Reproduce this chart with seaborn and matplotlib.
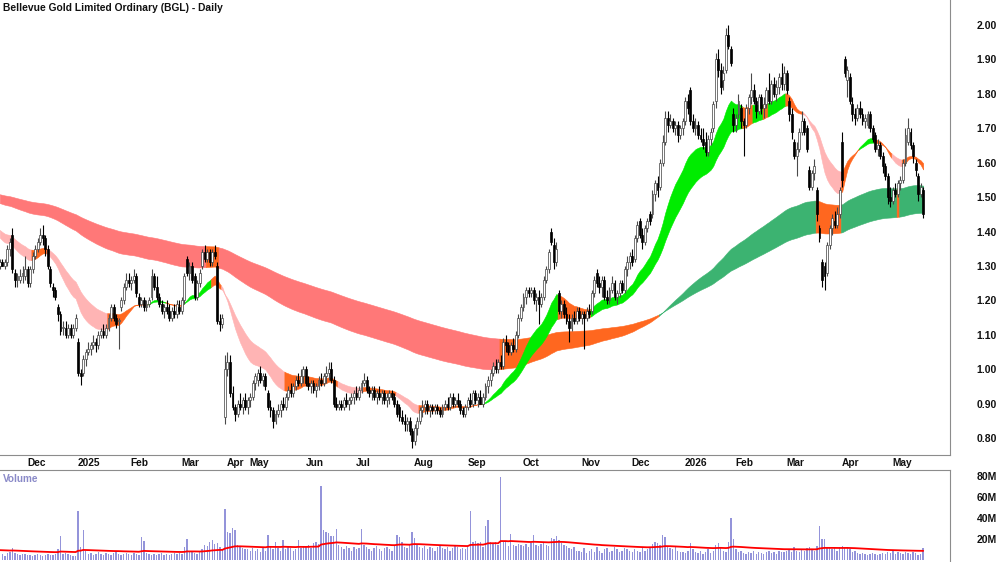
import numpy as np
import matplotlib
matplotlib.use("Agg")
import matplotlib.pyplot as plt
import seaborn as sns

title = "Bellevue Gold Limited Ordinary (BGL) - Daily"

# trading days shown in each month (first entry is the tail of Nov 2024)
month_days = [10, 20, 21, 20, 18, 9, 22, 20, 23, 21, 22, 23, 20, 21, 20, 20, 22, 20, 14]
month_labels = ["Dec", "2025", "Feb", "Mar", "Apr", "May", "Jun", "Jul", "Aug", "Sep",
                "Oct", "Nov", "Dec", "2026", "Feb", "Mar", "Apr", "May"]

opens = [
    1.30, 1.31, 1.30, 1.31, 1.35, 1.39, 1.28, 1.26, 1.26, 1.27,
    1.27, 1.29, 1.25, 1.29, 1.33, 1.35, 1.37, 1.39, 1.38, 1.35, 1.29, 1.24, 1.23, 1.18, 1.16, 1.12, 1.12, 1.10, 1.12, 1.10,
    1.12, 1.08, 0.99, 0.99, 1.03, 1.05, 1.06, 1.07, 1.08, 1.07, 1.10, 1.11, 1.10, 1.12, 1.15, 1.18, 1.15, 1.14, 1.18, 1.20, 1.24,
    1.26, 1.25, 1.26, 1.27, 1.21, 1.19, 1.20, 1.18, 1.19, 1.21, 1.27, 1.24, 1.21, 1.19, 1.17, 1.18, 1.17, 1.15, 1.17, 1.16,
    1.18, 1.17, 1.20, 1.32, 1.28, 1.30, 1.27, 1.21, 1.25, 1.30, 1.34, 1.32, 1.34, 1.31, 1.34, 1.30, 1.14, 1.13,
    0.86, 1.00, 1.02, 0.93, 0.89, 0.87, 0.90, 0.89, 0.91,
    0.89, 0.91, 0.92, 0.96, 0.97, 0.99, 0.97, 0.98, 0.93, 0.89, 0.88, 0.85, 0.87, 0.88, 0.90, 0.89, 0.92, 0.94, 0.93, 0.95, 0.97, 0.96,
    0.98, 1.00, 0.96, 0.95, 0.96, 0.94, 0.95, 0.97, 0.96, 0.98, 0.99, 1.00, 0.97, 0.90, 0.89, 0.90, 0.89, 0.91, 0.90, 0.91,
    0.92, 0.93, 0.92, 0.94, 0.96, 0.97, 0.94, 0.93, 0.94, 0.92, 0.93, 0.92, 0.93, 0.91, 0.92, 0.93, 0.92, 0.90, 0.89, 0.86, 0.85, 0.84, 0.85,
    0.82, 0.79, 0.83, 0.85, 0.88, 0.89, 0.90, 0.88, 0.89, 0.88, 0.89, 0.88, 0.87, 0.89, 0.90, 0.89, 0.92, 0.90, 0.91, 0.90, 0.88,
    0.87, 0.89, 0.91, 0.90, 0.93, 0.91, 0.92, 0.90, 0.92, 0.95, 0.97, 0.99, 1.01, 1.00, 1.02, 1.01, 1.08, 1.07, 1.05, 1.07, 1.06, 1.10,
    1.15, 1.18, 1.21, 1.23, 1.22, 1.23, 1.20, 1.21, 1.19, 1.21, 1.26, 1.29, 1.40, 1.36, 1.31, 1.22, 1.17, 1.19, 1.16, 1.14, 1.12, 1.15, 1.14,
    1.17, 1.15, 1.16, 1.15, 1.17, 1.17, 1.22, 1.28, 1.25, 1.24, 1.26, 1.21, 1.20, 1.23, 1.25, 1.21, 1.22, 1.25, 1.23, 1.29,
    1.31, 1.33, 1.32, 1.38, 1.43, 1.39, 1.37, 1.41, 1.45, 1.45, 1.51, 1.54, 1.53, 1.60, 1.66, 1.73, 1.71, 1.72, 1.70, 1.71, 1.68,
    1.70, 1.72, 1.78, 1.81, 1.72, 1.70, 1.71, 1.68, 1.67, 1.66, 1.63, 1.67, 1.70, 1.78, 1.90, 1.87, 1.84, 1.87, 1.97, 1.93,
    1.74, 1.71, 1.74, 1.76, 1.72, 1.71, 1.76, 1.79, 1.81, 1.78, 1.75, 1.79, 1.76, 1.77, 1.81, 1.78, 1.83, 1.80, 1.82, 1.85,
    1.83, 1.86, 1.78, 1.74, 1.66, 1.62, 1.64, 1.69, 1.72, 1.70, 1.58, 1.53, 1.57, 1.52, 1.41, 1.31, 1.30, 1.28, 1.36, 1.41, 1.43, 1.42,
    1.45, 1.66, 1.90, 1.84, 1.85, 1.77, 1.74, 1.73, 1.76, 1.74, 1.72, 1.71, 1.74, 1.70, 1.68, 1.64, 1.65, 1.62, 1.59, 1.56,
    1.50, 1.49, 1.52, 1.51, 1.54, 1.55, 1.60, 1.66, 1.69, 1.65, 1.60, 1.56, 1.51, 1.52,
]
highs = [
    1.32, 1.32, 1.32, 1.36, 1.38, 1.41, 1.29, 1.28, 1.29, 1.30,
    1.33, 1.30, 1.30, 1.34, 1.36, 1.38, 1.41, 1.42, 1.39, 1.36, 1.30, 1.25, 1.24, 1.19, 1.17, 1.14, 1.14, 1.13, 1.13, 1.13,
    1.16, 1.09, 1.00, 1.04, 1.06, 1.08, 1.08, 1.10, 1.09, 1.11, 1.12, 1.13, 1.13, 1.16, 1.19, 1.19, 1.16, 1.15, 1.21, 1.25, 1.28,
    1.28, 1.27, 1.29, 1.28, 1.22, 1.21, 1.21, 1.20, 1.21, 1.29, 1.28, 1.27, 1.22, 1.20, 1.19, 1.20, 1.19, 1.18, 1.19, 1.20,
    1.20, 1.21, 1.28, 1.33, 1.31, 1.31, 1.28, 1.26, 1.29, 1.35, 1.36, 1.35, 1.35, 1.35, 1.36, 1.31, 1.16, 1.16,
    1.04, 1.05, 1.04, 0.95, 0.90, 0.91, 0.93, 0.92, 0.93,
    0.92, 0.93, 0.97, 0.99, 1.00, 1.01, 0.99, 0.99, 0.94, 0.91, 0.89, 0.88, 0.90, 0.91, 0.92, 0.93, 0.95, 0.96, 0.96, 0.98, 0.99, 1.00,
    1.01, 1.01, 0.98, 0.97, 0.97, 0.96, 0.98, 0.99, 0.99, 1.01, 1.02, 1.02, 0.98, 0.92, 0.91, 0.91, 0.92, 0.93, 0.92, 0.93,
    0.94, 0.95, 0.95, 0.97, 0.99, 0.98, 0.95, 0.95, 0.95, 0.94, 0.95, 0.94, 0.94, 0.93, 0.94, 0.94, 0.93, 0.91, 0.90, 0.88, 0.87, 0.86, 0.86,
    0.83, 0.84, 0.86, 0.89, 0.91, 0.91, 0.91, 0.90, 0.90, 0.90, 0.90, 0.89, 0.90, 0.91, 0.92, 0.93, 0.93, 0.92, 0.93, 0.91, 0.89,
    0.90, 0.92, 0.93, 0.94, 0.94, 0.93, 0.94, 0.93, 0.96, 0.98, 1.00, 1.02, 1.03, 1.03, 1.04, 1.09, 1.10, 1.08, 1.08, 1.09, 1.11, 1.16,
    1.19, 1.22, 1.24, 1.24, 1.24, 1.24, 1.22, 1.23, 1.22, 1.27, 1.30, 1.35, 1.41, 1.38, 1.37, 1.23, 1.20, 1.20, 1.18, 1.16, 1.16, 1.17, 1.18,
    1.18, 1.17, 1.17, 1.18, 1.19, 1.23, 1.27, 1.29, 1.27, 1.27, 1.27, 1.23, 1.24, 1.27, 1.26, 1.23, 1.26, 1.26, 1.30, 1.33,
    1.34, 1.35, 1.39, 1.43, 1.44, 1.41, 1.42, 1.44, 1.46, 1.52, 1.55, 1.56, 1.61, 1.68, 1.75, 1.75, 1.74, 1.73, 1.72, 1.72, 1.71,
    1.73, 1.79, 1.80, 1.82, 1.74, 1.73, 1.72, 1.70, 1.70, 1.69, 1.68, 1.70, 1.78, 1.92, 1.93, 1.89, 1.88, 1.99, 2.00, 1.94,
    1.76, 1.74, 1.80, 1.77, 1.73, 1.77, 1.80, 1.86, 1.83, 1.79, 1.80, 1.80, 1.79, 1.82, 1.86, 1.84, 1.85, 1.84, 1.86, 1.89,
    1.88, 1.87, 1.79, 1.76, 1.67, 1.66, 1.70, 1.75, 1.73, 1.71, 1.59, 1.58, 1.61, 1.53, 1.42, 1.32, 1.31, 1.37, 1.42, 1.45, 1.46, 1.47,
    1.53, 1.69, 1.91, 1.88, 1.86, 1.79, 1.76, 1.77, 1.78, 1.76, 1.74, 1.75, 1.75, 1.71, 1.69, 1.67, 1.66, 1.63, 1.60, 1.57,
    1.53, 1.53, 1.54, 1.55, 1.56, 1.61, 1.70, 1.73, 1.70, 1.66, 1.61, 1.57, 1.54, 1.53,
]
lows = [
    1.29, 1.30, 1.29, 1.30, 1.33, 1.28, 1.24, 1.24, 1.25, 1.25,
    1.26, 1.24, 1.24, 1.28, 1.32, 1.34, 1.36, 1.36, 1.33, 1.29, 1.24, 1.21, 1.20, 1.14, 1.10, 1.10, 1.09, 1.09, 1.09, 1.09,
    1.11, 0.98, 0.955, 0.98, 1.01, 1.04, 1.04, 1.06, 1.05, 1.06, 1.09, 1.09, 1.09, 1.11, 1.14, 1.14, 1.12, 1.06, 1.17, 1.19, 1.23,
    1.24, 1.23, 1.25, 1.21, 1.18, 1.18, 1.17, 1.17, 1.18, 1.20, 1.23, 1.20, 1.18, 1.16, 1.15, 1.16, 1.14, 1.14, 1.15, 1.15,
    1.16, 1.16, 1.19, 1.27, 1.26, 1.25, 1.20, 1.20, 1.24, 1.29, 1.31, 1.31, 1.30, 1.30, 1.32, 1.13, 1.11, 1.12,
    0.84, 0.98, 0.92, 0.88, 0.85, 0.86, 0.88, 0.87, 0.88,
    0.87, 0.89, 0.91, 0.94, 0.95, 0.96, 0.95, 0.94, 0.88, 0.86, 0.83, 0.84, 0.86, 0.86, 0.88, 0.88, 0.91, 0.92, 0.92, 0.94, 0.95, 0.95,
    0.96, 0.95, 0.94, 0.93, 0.93, 0.92, 0.94, 0.95, 0.95, 0.96, 0.97, 0.96, 0.89, 0.88, 0.88, 0.88, 0.88, 0.89, 0.88, 0.90,
    0.90, 0.91, 0.91, 0.93, 0.95, 0.93, 0.92, 0.91, 0.91, 0.90, 0.91, 0.90, 0.90, 0.89, 0.90, 0.91, 0.89, 0.86, 0.85, 0.84, 0.82, 0.82, 0.81,
    0.77, 0.78, 0.81, 0.84, 0.86, 0.87, 0.87, 0.86, 0.87, 0.87, 0.87, 0.86, 0.86, 0.88, 0.88, 0.88, 0.89, 0.89, 0.89, 0.87, 0.86,
    0.86, 0.88, 0.89, 0.89, 0.90, 0.89, 0.90, 0.89, 0.91, 0.93, 0.95, 0.98, 0.99, 0.99, 1.00, 1.00, 1.05, 1.04, 1.04, 1.05, 1.05, 1.09,
    1.14, 1.17, 1.19, 1.21, 1.21, 1.19, 1.17, 1.13, 1.18, 1.20, 1.25, 1.28, 1.36, 1.29, 1.30, 1.16, 1.15, 1.15, 1.13, 1.08, 1.11, 1.13, 1.13,
    1.14, 1.13, 1.06, 1.14, 1.15, 1.16, 1.21, 1.24, 1.22, 1.21, 1.20, 1.19, 1.19, 1.22, 1.20, 1.19, 1.21, 1.22, 1.22, 1.27,
    1.29, 1.30, 1.31, 1.37, 1.38, 1.35, 1.36, 1.40, 1.42, 1.44, 1.49, 1.50, 1.52, 1.59, 1.65, 1.69, 1.70, 1.69, 1.68, 1.66, 1.67,
    1.68, 1.71, 1.74, 1.71, 1.69, 1.68, 1.67, 1.66, 1.64, 1.62, 1.62, 1.65, 1.69, 1.76, 1.85, 1.80, 1.81, 1.86, 1.93, 1.88,
    1.69, 1.69, 1.73, 1.70, 1.62, 1.70, 1.74, 1.77, 1.77, 1.73, 1.74, 1.74, 1.73, 1.76, 1.77, 1.77, 1.79, 1.78, 1.80, 1.81,
    1.81, 1.80, 1.72, 1.67, 1.61, 1.56, 1.63, 1.68, 1.68, 1.63, 1.52, 1.52, 1.55, 1.43, 1.37, 1.24, 1.23, 1.27, 1.35, 1.39, 1.41, 1.41,
    1.44, 1.53, 1.85, 1.79, 1.77, 1.72, 1.71, 1.72, 1.73, 1.71, 1.70, 1.70, 1.69, 1.66, 1.63, 1.62, 1.61, 1.57, 1.55, 1.48,
    1.47, 1.48, 1.50, 1.50, 1.52, 1.54, 1.59, 1.65, 1.64, 1.60, 1.56, 1.49, 1.50, 1.44,
]
closes = [
    1.31, 1.30, 1.31, 1.35, 1.37, 1.29, 1.26, 1.27, 1.27, 1.28,
    1.29, 1.25, 1.29, 1.33, 1.35, 1.37, 1.39, 1.38, 1.35, 1.30, 1.25, 1.23, 1.21, 1.16, 1.11, 1.12, 1.10, 1.12, 1.10, 1.12,
    1.15, 0.99, 0.98, 1.03, 1.05, 1.06, 1.07, 1.08, 1.07, 1.10, 1.11, 1.10, 1.12, 1.15, 1.18, 1.15, 1.13, 1.14, 1.20, 1.24, 1.26,
    1.25, 1.26, 1.27, 1.22, 1.19, 1.20, 1.18, 1.19, 1.20, 1.27, 1.24, 1.21, 1.19, 1.17, 1.18, 1.17, 1.15, 1.17, 1.16, 1.19,
    1.17, 1.20, 1.27, 1.28, 1.30, 1.26, 1.21, 1.25, 1.28, 1.34, 1.32, 1.34, 1.31, 1.34, 1.33, 1.14, 1.13, 1.15,
    1.00, 1.02, 0.93, 0.89, 0.87, 0.90, 0.89, 0.91, 0.89,
    0.91, 0.92, 0.96, 0.98, 0.99, 0.97, 0.98, 0.95, 0.89, 0.88, 0.85, 0.87, 0.88, 0.90, 0.89, 0.92, 0.94, 0.93, 0.95, 0.97, 0.96, 0.98,
    1.00, 0.96, 0.95, 0.96, 0.94, 0.95, 0.97, 0.96, 0.98, 0.99, 1.00, 0.97, 0.90, 0.89, 0.90, 0.89, 0.91, 0.90, 0.91, 0.92,
    0.93, 0.92, 0.94, 0.96, 0.97, 0.94, 0.93, 0.94, 0.92, 0.93, 0.92, 0.93, 0.91, 0.92, 0.93, 0.92, 0.90, 0.87, 0.86, 0.85, 0.84, 0.85, 0.82,
    0.79, 0.83, 0.85, 0.88, 0.89, 0.90, 0.88, 0.89, 0.88, 0.89, 0.88, 0.87, 0.89, 0.90, 0.89, 0.92, 0.90, 0.91, 0.90, 0.88, 0.87,
    0.89, 0.91, 0.90, 0.93, 0.91, 0.92, 0.90, 0.92, 0.95, 0.97, 0.99, 1.01, 1.00, 1.02, 1.01, 1.08, 1.07, 1.05, 1.07, 1.06, 1.10, 1.15,
    1.18, 1.21, 1.23, 1.22, 1.23, 1.20, 1.21, 1.19, 1.21, 1.26, 1.29, 1.34, 1.37, 1.31, 1.35, 1.17, 1.19, 1.16, 1.14, 1.12, 1.15, 1.14, 1.17,
    1.15, 1.16, 1.15, 1.17, 1.16, 1.22, 1.26, 1.25, 1.24, 1.26, 1.21, 1.20, 1.23, 1.25, 1.21, 1.22, 1.25, 1.23, 1.29, 1.31,
    1.33, 1.31, 1.38, 1.42, 1.39, 1.37, 1.41, 1.43, 1.43, 1.51, 1.54, 1.52, 1.60, 1.66, 1.73, 1.71, 1.72, 1.70, 1.71, 1.68, 1.70,
    1.72, 1.78, 1.76, 1.72, 1.70, 1.71, 1.68, 1.67, 1.65, 1.63, 1.67, 1.69, 1.77, 1.90, 1.87, 1.82, 1.86, 1.97, 1.94, 1.89,
    1.71, 1.73, 1.78, 1.72, 1.71, 1.76, 1.79, 1.81, 1.78, 1.75, 1.79, 1.76, 1.77, 1.81, 1.78, 1.83, 1.80, 1.82, 1.85, 1.83,
    1.86, 1.81, 1.74, 1.69, 1.62, 1.64, 1.69, 1.72, 1.69, 1.64, 1.53, 1.57, 1.59, 1.45, 1.38, 1.26, 1.27, 1.36, 1.41, 1.44, 1.42, 1.45,
    1.52, 1.55, 1.86, 1.87, 1.78, 1.74, 1.73, 1.76, 1.74, 1.72, 1.73, 1.74, 1.70, 1.67, 1.64, 1.65, 1.62, 1.59, 1.56, 1.50,
    1.49, 1.52, 1.51, 1.54, 1.55, 1.60, 1.68, 1.70, 1.65, 1.62, 1.58, 1.51, 1.53, 1.45,
]
# daily volume, millions of shares
volume_m = [
    5, 6, 4, 7, 8, 11, 7, 6, 5, 6,
    6, 5, 5, 4, 5, 6, 5, 4, 5, 6, 5, 5, 6, 10, 23, 6, 7, 6, 5, 4,
    4, 46, 12, 28, 9, 6, 7, 5, 6, 8, 6, 5, 7, 6, 5, 7, 9, 6, 5, 6, 7,
    6, 5, 7, 6, 5, 22, 18, 7, 6, 5, 6, 5, 6, 7, 5, 6, 5, 6, 7, 6,
    7, 6, 12, 20, 9, 8, 7, 6, 8, 10, 14, 13, 17, 19, 15, 16, 12, 10,
    48, 27, 26, 30, 28, 14, 12, 11, 10,
    10, 9, 11, 9, 10, 8, 11, 9, 24, 12, 10, 17, 11, 9, 19, 10, 12, 11, 9, 10, 19, 11,
    13, 12, 14, 11, 16, 17, 15, 70, 28, 27, 26, 23, 23, 29, 14, 12, 10, 13, 11, 9,
    12, 10, 11, 29, 14, 12, 10, 9, 11, 13, 10, 9, 11, 12, 10, 9, 13, 24, 22, 17, 12, 11, 14,
    27, 21, 15, 12, 11, 13, 10, 12, 11, 9, 12, 14, 11, 10, 12, 9, 11, 13, 12, 10, 11,
    10, 12, 46, 17, 18, 16, 17, 12, 32, 38, 17, 16, 17, 14, 79, 18, 17, 13, 25, 14, 13, 15,
    14, 13, 15, 12, 16, 24, 14, 13, 15, 16, 14, 13, 21, 20, 23, 19, 16, 14, 13, 11, 10, 12, 9,
    9, 8, 11, 7, 9, 10, 8, 12, 9, 7, 10, 11, 8, 9, 12, 10, 8, 9, 11, 10,
    9, 8, 10, 9, 8, 11, 9, 10, 12, 15, 17, 16, 14, 24, 22, 13, 11, 10, 12, 9, 8,
    8, 7, 9, 16, 10, 8, 7, 9, 6, 8, 10, 7, 9, 14, 16, 11, 9, 8, 17, 40,
    20, 10, 8, 9, 7, 6, 8, 7, 9, 6, 8, 7, 6, 8, 9, 7, 8, 6, 9, 8,
    8, 9, 10, 8, 12, 9, 8, 10, 9, 11, 12, 10, 9, 13, 32, 20, 20, 12, 11, 10, 12, 9,
    12, 13, 11, 12, 10, 8, 9, 7, 6, 7, 6, 5, 6, 7, 6, 5, 6, 7, 6, 8,
    7, 9, 6, 8, 7, 6, 8, 7, 6, 8, 7, 5, 6, 11,
]

# moving-average ribbons: periods and their values just before the first bar
short_periods = [20, 35]
short_seed = [1.39, 1.41]
long_periods = [145, 235]
long_seed = [1.485, 1.51]
vol_avg_span = 60
vol_avg_seed = 9.5

# colour state of each ribbon, as runs starting at these bar numbers
short_runs = [0, 13, 19, 43, 59, 66, 73, 84, 88, 113, 134, 144, 157, 166, 191, 221, 234,
              294, 298, 302, 304, 311, 318, 333, 340, 346, 353, 357]
short_trend = ["bear", "mixed", "bear", "mixed", "bull", "mixed", "bull", "mixed", "bear",
               "mixed", "bear", "mixed", "bear", "mixed", "bull", "mixed", "bull", "mixed",
               "bull", "mixed", "bull", "mixed", "bear", "mixed", "bull", "mixed", "bear", "mixed"]
long_runs = [0, 82, 87, 198, 261, 323, 333, 355, 356]
long_trend = ["bear", "mixed", "bear", "mixed", "bull", "mixed", "bull", "mixed", "bull"]

price_ticks = [0.80, 0.90, 1.00, 1.10, 1.20, 1.30, 1.40, 1.50, 1.60, 1.70, 1.80, 1.90, 2.00]
vol_ticks = [20, 40, 60, 80]

SHORT_COLORS = {"bull": "#00ec00", "bear": "#ffb4b4", "mixed": "#ff671f"}
LONG_COLORS = {"bull": "#3cb371", "bear": "#ff7878", "mixed": "#ff671f"}
GRID_GREY = "#8c8c8c"


def ema(values, period, seed):
    a = 2.0 / (period + 1)
    out = []
    prev = seed
    for v in values:
        prev = a * v + (1 - a) * prev
        out.append(prev)
    return np.array(out)


def draw_band(ax, idx, lo, hi, runs, trend, colors):
    n = len(idx)
    bounds = list(runs) + [n]
    for k, tr in enumerate(trend):
        a, b = bounds[k], bounds[k + 1]
        xs = np.linspace(a - 0.5, b - 0.5, 4 * (b - a) + 1)
        xs = np.clip(xs, 0, n - 1)
        ax.fill_between(xs, np.interp(xs, idx, lo), np.interp(xs, idx, hi),
                        color=colors[tr], lw=0.4, edgecolor=colors[tr], zorder=1)


o = np.array(opens)
h = np.array(highs)
l = np.array(lows)
c = np.array(closes)
v = np.array(volume_m, dtype=float)
idx = np.arange(len(c))
assert len(o) == len(h) == len(l) == len(c) == len(v) == sum(month_days)

short_lines = [ema(c, p, s) for p, s in zip(short_periods, short_seed)]
long_lines = [ema(c, p, s) for p, s in zip(long_periods, long_seed)]
vol_avg = ema(v, vol_avg_span, vol_avg_seed)

sns.set_style("white")
plt.rcParams["font.family"] = ["Liberation Sans", "DejaVu Sans"]
plt.rcParams["font.weight"] = "bold"

fig = plt.figure(figsize=(10, 5.62), dpi=100)
ax = fig.add_axes([0, 1 - 455 / 562, 0.95, 455 / 562])
axv = fig.add_axes([0, 0, 0.95, 92 / 562])

# ribbons
draw_band(ax, idx, np.min(long_lines, axis=0), np.max(long_lines, axis=0),
          long_runs, long_trend, LONG_COLORS)
draw_band(ax, idx, np.min(short_lines, axis=0), np.max(short_lines, axis=0),
          short_runs, short_trend, SHORT_COLORS)

# candles
up = c >= o
ax.vlines(idx, l, h, colors=np.where(up, "#4a4a4a", "#000000"), lw=0.8, zorder=3)
body_lo = np.minimum(o, c)
body_h = np.maximum(np.abs(c - o), 0.004)
ax.bar(idx, body_h, bottom=body_lo, width=0.75,
       color=np.where(up, "white", "black"),
       edgecolor=np.where(up, "#404040", "black"), linewidth=0.5, zorder=4)

ax.set_xlim(0.1, 375.6)
ax.set_ylim(0.7507, 2.0726)
ax.set_yticks(price_ticks)
ax.set_yticklabels([f"{t:.2f}" for t in price_ticks])
ax.yaxis.tick_right()
ax.tick_params(axis="y", direction="out", length=2, color=GRID_GREY, pad=17,
               labelsize=7.5, labelcolor="#111111")

tick_pos = np.cumsum(month_days)[:-1]
ax.set_xticks(tick_pos)
ax.set_xticklabels([])
ax.tick_params(axis="x", direction="out", length=2, color=GRID_GREY)
for pos, lab in zip(tick_pos, month_labels):
    ax.text(pos + 0.8, -0.0165, lab, transform=ax.get_xaxis_transform(),
            ha="left", va="center", fontsize=7.3, color="#111111")

sns.despine(ax=ax, left=True, top=True, right=False, bottom=False)
for side in ("right", "bottom"):
    ax.spines[side].set_color(GRID_GREY)
    ax.spines[side].set_linewidth(0.8)

fig.text(0.003, 1 - 8 / 562, title, ha="left", va="center", fontsize=7.4, color="#111111")

# volume panel
axv.bar(idx, v, width=0.55, color="#9494da", lw=0, zorder=2)
sns.lineplot(x=idx, y=vol_avg, ax=axv, color="#ff0000", lw=1.3, zorder=3)
axv.set_xlim(0.1, 375.6)
axv.set_ylim(-1.9, 85.3)
axv.set_xticks([])
axv.set_yticks(vol_ticks)
axv.set_yticklabels([f"{t}M" for t in vol_ticks])
axv.yaxis.tick_right()
axv.tick_params(axis="y", direction="out", length=2, color=GRID_GREY, pad=17,
                labelsize=7.5, labelcolor="#111111")
axv.set_xlabel("")
axv.set_ylabel("")
sns.despine(ax=axv, left=True, top=False, right=False, bottom=True)
for side in ("right", "top"):
    axv.spines[side].set_color(GRID_GREY)
    axv.spines[side].set_linewidth(0.8)
axv.text(0.003, 0.9, "Volume", transform=axv.transAxes, ha="left", va="center",
         fontsize=7.2, color="#8a8ac8")

fig.savefig("out.png", dpi=100)
